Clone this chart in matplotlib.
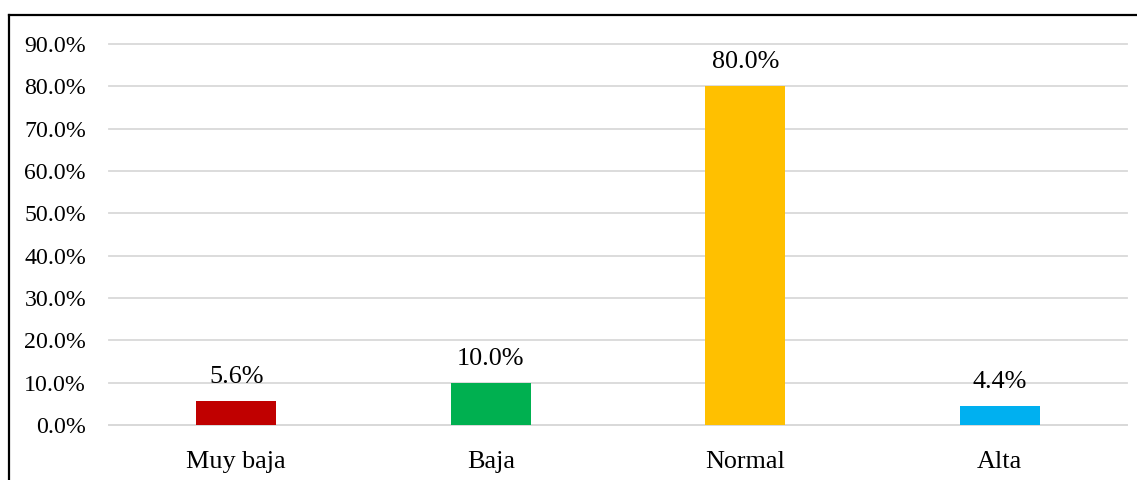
import matplotlib.pyplot as plt
from matplotlib.lines import Line2D

categories = ['Muy baja', 'Baja', 'Normal', 'Alta']
values = [5.6, 10.0, 80.0, 4.4]
colors = ['#C00000', '#00B050', '#FFC000', '#00B0F0']
yticks = [0, 10, 20, 30, 40, 50, 60, 70, 80, 90]

plt.rcParams['font.family'] = ['Liberation Serif', 'DejaVu Serif']

fig = plt.figure(figsize=(11.37, 4.8), dpi=100)
ax = fig.add_axes([109 / 1137, 1 - 425 / 480, 1018 / 1137, 381 / 480])

x = range(len(categories))
bars = ax.bar(x, values, width=0.315, color=colors, zorder=3)
for xi, v in zip(x, values):
    ax.text(xi, v + 3.1, f'{v:.1f}%', ha='center', va='bottom', fontsize=18.8)

ax.set_xlim(-0.5, 3.5)
ax.set_ylim(0, 90)
ax.set_yticks(yticks)
ax.set_yticklabels([f'{t:.1f}%' for t in yticks], fontsize=17.2)
ax.set_xticks(list(x))
ax.set_xticklabels(categories, fontsize=18.8)
ax.tick_params(length=0)
ax.tick_params(axis='y', pad=16.5)
ax.tick_params(axis='x', pad=19)
ax.grid(axis='y', color='#D9D9D9', linewidth=1.3, zorder=0)
for gl in ax.get_ygridlines():
    gl.set_clip_on(False)
for s in ['top', 'right', 'left']:
    ax.spines[s].set_visible(False)
ax.spines['bottom'].set_color('#D9D9D9')
ax.spines['bottom'].set_linewidth(1.3)

# frame lines on the top and left edges of the picture
fig.add_artist(Line2D([8.5 / 1137, 8.5 / 1137], [0, 1 - 14.5 / 480], color='black', linewidth=1.6))
fig.add_artist(Line2D([8.5 / 1137, 1], [1 - 14.5 / 480, 1 - 14.5 / 480], color='black', linewidth=1.6))

fig.savefig('out.png', dpi=100)
